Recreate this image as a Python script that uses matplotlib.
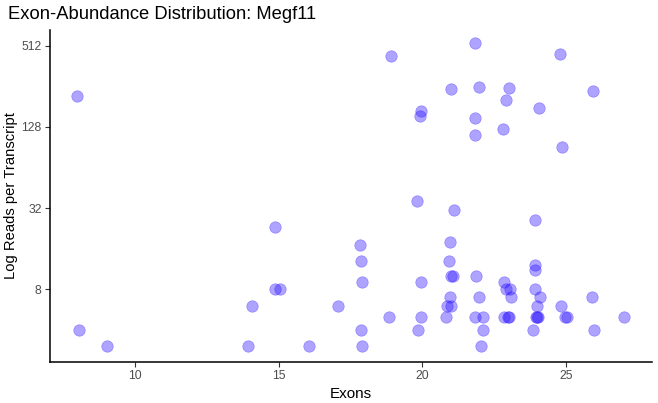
import matplotlib
matplotlib.use("Agg")
import matplotlib.pyplot as plt

plt.rcParams['font.family'] = ['Liberation Sans', 'DejaVu Sans']

# exon count per transcript (slight horizontal jitter as in the original)
exons = [7.99, 8.05, 9.03, 14.89, 14.87, 15.05, 14.07, 13.95, 16.07,
         18.91, 21.84, 24.81, 21.01, 21.99, 23.02, 25.96, 22.91, 19.95,
         19.91, 21.85, 24.06, 22.81, 21.85, 24.88, 19.83,
         21.09, 23.94, 17.84, 17.87, 17.90, 17.05, 18.85, 17.87, 17.90,
         19.95, 19.95, 19.86, 20.98, 20.94, 20.99, 21.08, 21.87, 20.98,
         20.86, 21.00, 20.84, 21.97, 21.82, 22.10, 22.10, 22.04,
         22.86, 22.90, 23.07, 23.08, 22.86, 22.97, 23.02,
         23.92, 23.92, 23.94, 24.10, 24.00, 23.97, 24.00, 24.03, 23.86,
         24.84, 24.97, 25.05, 25.92, 25.97, 27.01]

# reads per transcript
reads = [219, 4, 3, 23, 8, 8, 6, 3, 3,
         434, 534, 444, 247, 252, 250, 237, 203, 169,
         154, 149, 176, 124, 112, 91, 36,
         31, 26, 17, 13, 9, 6, 5, 4, 3,
         9, 5, 4, 18, 13, 10, 10, 10, 7,
         6, 6, 5, 7, 5, 5, 4, 3,
         9, 8, 8, 7, 5, 5, 5,
         12, 11, 8, 7, 6, 5, 5, 5, 4,
         6, 5, 5, 7, 4, 5]

y_ticks = [8, 32, 128, 512]
x_ticks = [10, 15, 20, 25]

fig = plt.figure(figsize=(6.58, 4.03), dpi=100)
ax = fig.add_axes([0.076, 0.1017, 0.915, 0.824])

ax.scatter(exons, reads, s=68, color='#2A10FF', alpha=0.38,
           edgecolors='#2A10FF', linewidths=0.5)

ax.set_yscale('log', base=2)
ax.set_xlim(7.04, 28.0)
ax.set_ylim(2 ** 1.2, 2 ** 9.395)
ax.set_yticks(y_ticks)
ax.set_yticklabels([str(t) for t in y_ticks])
ax.yaxis.set_minor_locator(matplotlib.ticker.NullLocator())
ax.set_xticks(x_ticks)

for side in ['top', 'right']:
    ax.spines[side].set_visible(False)
for side in ['left', 'bottom']:
    ax.spines[side].set_linewidth(1.1)
    ax.spines[side].set_color('black')

ax.tick_params(axis='both', length=3.5, width=0.8, color='#333333',
               labelsize=8.8, labelcolor='#4d4d4d', pad=2.5)

ax.set_xlabel("Exons", fontsize=11, labelpad=3)
ax.set_ylabel("Log Reads per Transcript", fontsize=10.6)
ax.yaxis.set_label_coords(-0.053, 0.5)
fig.text(0.012, 0.965, "Exon-Abundance Distribution: Megf11", fontsize=13.2,
         ha='left', va='center')

fig.savefig("out.png", dpi=100)
